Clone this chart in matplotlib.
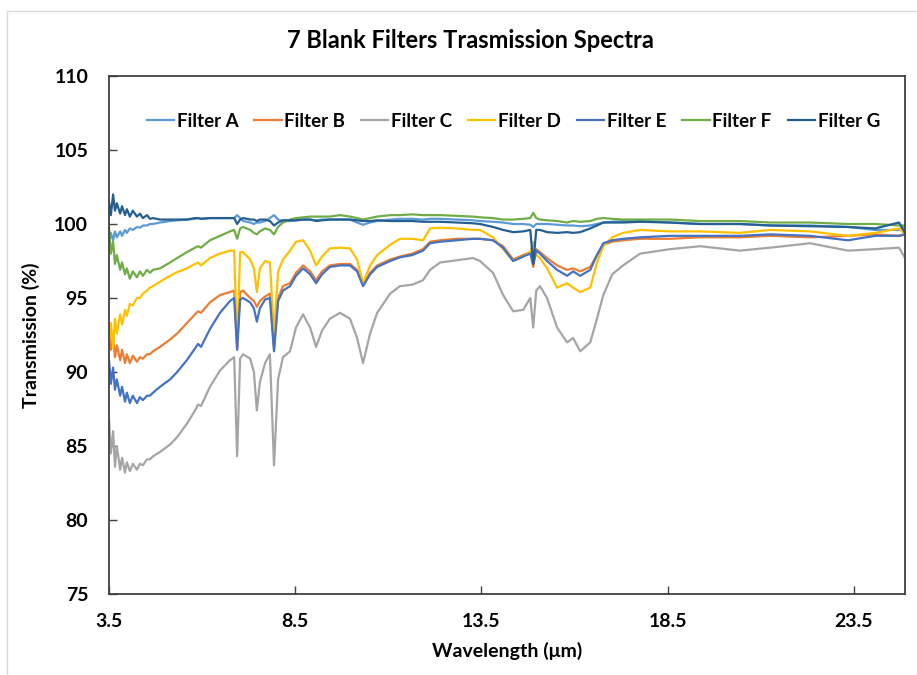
import matplotlib
matplotlib.use("Agg")
import matplotlib.pyplot as plt
from matplotlib.patches import Rectangle

plt.rcParams['font.family'] = ['Lato', 'DejaVu Sans']
plt.rcParams['font.weight'] = 'bold'

# wavelength grid (um)
wavelength = [3.50, 3.55, 3.61, 3.66, 3.71, 3.80, 3.85, 3.93, 3.98, 4.06,
              4.14, 4.25, 4.33, 4.41, 4.52, 4.60, 4.68, 4.87, 5.14, 5.33,
              5.59, 5.81, 5.89, 5.97, 6.21, 6.48, 6.75, 6.86, 6.94, 7.02,
              7.10, 7.29, 7.39, 7.47, 7.55, 7.69, 7.82, 7.93, 8.04, 8.17,
              8.36, 8.52, 8.71, 8.90, 9.06, 9.22, 9.43, 9.70, 9.97, 10.16,
              10.32, 10.51, 10.70, 11.05, 11.31, 11.64, 11.93, 12.12, 12.39, 12.84,
              13.27, 13.46, 13.81, 14.08, 14.35, 14.62, 14.81, 14.89, 14.97, 15.07,
              15.26, 15.53, 15.80, 15.96, 16.15, 16.42, 16.60, 16.77, 17.01, 17.30,
              17.76, 18.56, 19.37, 20.44, 21.25, 22.32, 23.34, 24.07, 24.71, 24.87]

filter_a = [98.6, 99.4, 98.9, 99.5, 99.1, 99.5, 99.2, 99.6, 99.4, 99.7,
            99.6, 99.8, 99.75, 99.9, 99.9, 100.0, 100.0, 100.1, 100.2, 100.25,
            100.3, 100.35, 100.4, 100.35, 100.4, 100.4, 100.4, 100.4, 100.6, 100.4,
            100.2, 100.1, 100.0, 100.1, 100.1, 100.2, 100.4, 100.6, 100.3, 100.2,
            100.2, 100.25, 100.3, 100.3, 100.25, 100.3, 100.3, 100.3, 100.3, 100.1,
            99.95, 100.1, 100.2, 100.3, 100.35, 100.35, 100.3, 100.35, 100.35, 100.3,
            100.25, 100.2, 100.15, 100.1, 100.0, 100.0, 99.95, 99.8, 100.0, 100.0,
            100.0, 99.95, 99.9, 99.9, 99.85, 99.9, 100.0, 100.1, 100.15, 100.2,
            100.2, 100.1, 100.0, 100.0, 99.9, 99.9, 99.8, 99.6, 99.6, 99.9]

filter_b = [92.8, 91.5, 92.4, 91.0, 91.8, 90.8, 91.5, 90.6, 91.2, 90.6,
            91.1, 90.7, 91.0, 90.9, 91.2, 91.2, 91.4, 91.7, 92.2, 92.6,
            93.3, 93.9, 94.1, 94.0, 94.7, 95.2, 95.4, 95.5, 91.6, 95.4,
            95.5, 95.0, 94.8, 94.4, 94.8, 95.1, 95.3, 91.6, 95.0, 95.8,
            96.0, 96.7, 97.2, 96.8, 96.2, 96.8, 97.2, 97.3, 97.3, 96.9,
            95.9, 96.7, 97.2, 97.6, 97.8, 98.0, 98.3, 98.8, 98.9, 99.0,
            99.0, 99.0, 98.9, 98.5, 97.6, 97.9, 98.1, 97.1, 98.3, 98.1,
            97.7, 97.2, 96.9, 97.0, 96.8, 97.1, 97.9, 98.6, 98.8, 98.9,
            99.0, 99.0, 99.1, 99.1, 99.2, 99.1, 99.2, 99.3, 99.2, 99.3]

filter_c = [86.8, 84.5, 86.0, 83.6, 85.0, 83.4, 84.2, 83.2, 83.9, 83.3,
            83.8, 83.4, 83.8, 83.7, 84.1, 84.1, 84.3, 84.6, 85.1, 85.6,
            86.5, 87.4, 87.8, 87.7, 89.0, 90.1, 90.8, 91.0, 84.3, 90.9,
            91.2, 90.9, 90.0, 87.4, 89.3, 90.6, 91.2, 83.7, 89.5, 91.0,
            91.4, 93.0, 93.9, 93.0, 91.7, 92.8, 93.6, 94.0, 93.6, 92.3,
            90.6, 92.6, 94.0, 95.3, 95.8, 95.9, 96.2, 96.9, 97.4, 97.55,
            97.7, 97.5, 96.7, 95.2, 94.1, 94.2, 95.0, 93.0, 95.5, 95.8,
            95.0, 93.0, 92.0, 92.3, 91.4, 92.0, 93.6, 95.2, 96.6, 97.2,
            98.0, 98.3, 98.5, 98.2, 98.4, 98.7, 98.2, 98.3, 98.4, 97.7]

filter_d = [92.0, 93.3, 91.6, 93.6, 92.6, 93.9, 93.2, 94.2, 93.8, 94.6,
            94.5, 95.0, 95.0, 95.3, 95.5, 95.7, 95.8, 96.1, 96.5, 96.75,
            97.0, 97.3, 97.4, 97.2, 97.7, 98.0, 98.2, 98.2, 91.7, 98.1,
            98.1, 97.6, 97.0, 95.4, 97.0, 97.5, 97.4, 92.6, 96.8, 97.6,
            98.2, 98.8, 98.9, 98.2, 97.2, 97.8, 98.35, 98.4, 98.35, 97.6,
            96.0, 97.2, 97.9, 98.6, 99.0, 99.0, 98.9, 99.7, 99.75, 99.7,
            99.6, 99.6, 99.1, 98.3, 97.5, 97.8, 98.1, 98.8, 97.9, 97.7,
            97.0, 95.7, 96.0, 95.7, 95.4, 95.7, 97.4, 98.5, 99.1, 99.4,
            99.6, 99.5, 99.5, 99.4, 99.6, 99.5, 99.2, 99.4, 99.7, 99.3]

filter_e = [90.8, 89.2, 90.3, 88.8, 89.5, 88.4, 89.0, 88.0, 88.6, 87.9,
            88.4, 87.9, 88.3, 88.1, 88.4, 88.4, 88.6, 89.0, 89.5, 90.0,
            90.8, 91.6, 91.9, 91.7, 92.9, 94.0, 94.8, 95.0, 91.5, 94.9,
            95.0, 94.7, 94.3, 93.4, 94.3, 94.9, 95.0, 91.4, 94.8, 95.5,
            95.8, 96.5, 97.0, 96.6, 96.0, 96.6, 97.1, 97.2, 97.2, 96.8,
            95.8, 96.6, 97.1, 97.5, 97.75, 97.9, 98.2, 98.7, 98.8, 98.9,
            99.0, 99.0, 98.9, 98.4, 97.5, 97.8, 98.0, 97.3, 98.2, 98.0,
            97.5, 96.9, 96.5, 96.8, 96.5, 96.9, 97.9, 98.7, 98.9, 99.0,
            99.1, 99.2, 99.2, 99.2, 99.3, 99.2, 98.9, 99.2, 99.2, 99.3]

filter_f = [99.8, 98.0, 98.8, 97.3, 97.9, 96.9, 97.4, 96.6, 97.0, 96.3,
            96.8, 96.4, 96.8, 96.5, 96.9, 96.7, 96.9, 97.0, 97.4, 97.7,
            98.1, 98.4, 98.5, 98.4, 98.9, 99.2, 99.5, 99.6, 99.0, 99.7,
            99.8, 99.6, 99.4, 99.3, 99.5, 99.7, 99.6, 99.3, 99.8, 100.1,
            100.3, 100.4, 100.45, 100.5, 100.5, 100.5, 100.5, 100.6, 100.5, 100.4,
            100.3, 100.4, 100.5, 100.6, 100.6, 100.65, 100.6, 100.6, 100.6, 100.55,
            100.5, 100.45, 100.4, 100.3, 100.3, 100.35, 100.4, 100.75, 100.4, 100.3,
            100.25, 100.2, 100.1, 100.2, 100.15, 100.2, 100.35, 100.4, 100.35, 100.3,
            100.3, 100.3, 100.2, 100.2, 100.1, 100.1, 100.0, 100.0, 99.9, 99.9]

filter_g = [101.5, 100.6, 102.0, 100.9, 101.4, 100.7, 101.2, 100.6, 101.0, 100.5,
            100.9, 100.5, 100.7, 100.4, 100.6, 100.35, 100.4, 100.3, 100.3, 100.3,
            100.3, 100.4, 100.4, 100.35, 100.4, 100.4, 100.4, 100.4, 100.0, 100.3,
            100.4, 100.3, 100.3, 100.2, 100.3, 100.3, 100.2, 99.9, 100.1, 100.25,
            100.25, 100.25, 100.3, 100.3, 100.2, 100.25, 100.3, 100.3, 100.3, 100.25,
            100.2, 100.2, 100.25, 100.2, 100.2, 100.2, 100.15, 100.15, 100.15, 100.1,
            100.05, 100.0, 99.8, 99.6, 99.45, 99.5, 99.6, 97.3, 99.6, 99.6,
            99.45, 99.4, 99.45, 99.4, 99.45, 99.7, 99.9, 100.1, 100.1, 100.1,
            100.15, 100.1, 100.0, 100.0, 99.9, 99.85, 99.8, 99.7, 100.1, 99.4]

labels = ['Filter A', 'Filter B', 'Filter C', 'Filter D', 'Filter E', 'Filter F', 'Filter G']
colors = ['#5B9BD5', '#ED7D31', '#A5A5A5', '#FFC000', '#4472C4', '#70AD47', '#255E91']
series = [filter_a, filter_b, filter_c, filter_d, filter_e, filter_f, filter_g]

fig = plt.figure(figsize=(9.17, 6.75), dpi=100)
ax = fig.add_axes([109 / 917, 81 / 675, 796 / 917, 518 / 675])

for vals, lab, col in zip(series, labels, colors):
    ax.plot(wavelength, vals, color=col, lw=1.6, label=lab)

ax.set_xlim(3.5, 24.87)
ax.set_ylim(75, 110)
ax.set_xticks([3.5, 8.5, 13.5, 18.5, 23.5])
ax.set_xticklabels(['3.5', '8.5', '13.5', '18.5', '23.5'])
ax.set_yticks(range(75, 111, 5))
ax.tick_params(axis='both', direction='in', labelsize=14, color='#404040', width=1)
ax.tick_params(axis='x', length=6, pad=14)
ax.tick_params(axis='y', length=6, pad=15)
for s in ax.spines.values():
    s.set_color('#404040')
    s.set_linewidth(1.3)

ax.set_xlabel('Wavelength (μm)', fontsize=14, fontweight='bold', labelpad=8)
ax.set_ylabel('Transmission (%)', fontsize=14, fontweight='bold', labelpad=10)
fig.suptitle('7 Blank Filters Trasmission Spectra', fontsize=17, fontweight='bold',
             x=470 / 917, y=1 - 40 / 675, va='center')

ax.legend(loc='center', bbox_to_anchor=(0.508, 0.913), ncol=7, frameon=False,
          fontsize=13.5, handlelength=1.45, handletextpad=0.15, columnspacing=0.85)

# thin gray chart-area border
fig.patches.append(Rectangle((7 / 917, -0.1), 1.2, 1 - 11 / 675 + 0.1, transform=fig.transFigure,
                             fill=False, edgecolor='#D9D9D9', lw=1))

fig.savefig('out.png', dpi=100)
